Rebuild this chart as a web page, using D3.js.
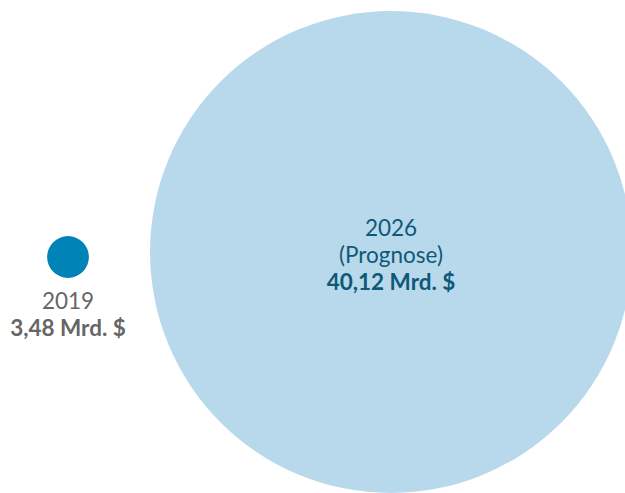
<!DOCTYPE html>
<html>
<head>
<meta charset="utf-8">
<script src="https://cdn.jsdelivr.net/npm/d3@7"></script>
<style>
  body { margin: 0; background: #fff; }
  svg { display: block; font-family: Lato, "Open Sans", sans-serif; }
</style>
</head>
<body>
<div id="chart"></div>
<script>
// Data
const years = ["2019", "2026"];
const notes = ["", "(Prognose)"];
const values = [3.48, 40.12];
const valueLabels = ["3,48 Mrd. $", "40,12 Mrd. $"];

const width = 625, height = 493;

const svg = d3.select("#chart")
  .append("svg")
  .attr("width", width)
  .attr("height", height);

// Radius is linear in value
const r = d3.scaleLinear()
  .domain([0, d3.max(values)])
  .range([0, 241]);

// Circle centre positions
const cx = d3.scaleOrdinal().domain(years).range([68, 391]);
const cy = d3.scaleOrdinal().domain(years).range([257, 252]);

const fill = d3.scaleOrdinal().domain(years).range(["#0083b7", "#b8d9ec"]);

const data = years.map((y, i) => ({ year: y, note: notes[i], value: values[i], label: valueLabels[i] }));

svg.selectAll("circle")
  .data(data)
  .enter()
  .append("circle")
  .attr("cx", d => cx(d.year))
  .attr("cy", d => cy(d.year))
  .attr("r", d => r(d.value))
  .attr("fill", d => fill(d.year));

// Labels: small bubble below, big bubble inside
data.forEach(function(d) {
  const small = r(d.value) < 60;
  const lines = [d.year];
  if (d.note) lines.push(d.note);
  lines.push(d.label);

  const startY = small ? cy(d.year) + r(d.value) + 31 : cy(d.year) - 16;
  const color = small ? "#666666" : "#0f5877";

  const t = svg.append("text")
    .attr("text-anchor", "middle")
    .attr("fill", color)
    .style("font-size", "22.5px");

  lines.forEach((line, i) => {
    t.append("tspan")
      .attr("x", cx(d.year))
      .attr("y", startY + i * 27)
      .style("font-weight", i === lines.length - 1 ? "bold" : "normal")
      .text(line);
  });
});
</script>
</body>
</html>
